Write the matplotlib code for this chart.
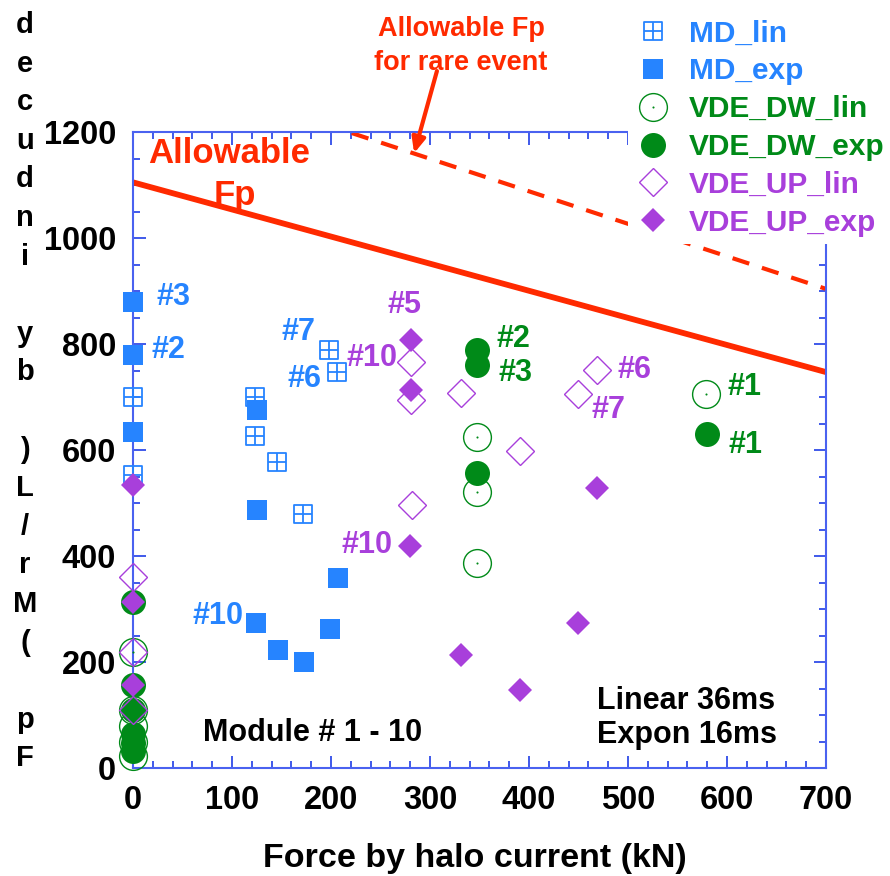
import matplotlib
matplotlib.use("Agg")
import matplotlib.pyplot as plt
from matplotlib.path import Path
from matplotlib.ticker import MultipleLocator

plt.rcParams['font.family'] = ['Liberation Sans', 'DejaVu Sans']
plt.rcParams['font.weight'] = 'bold'

# ---- data ----
md_lin_x = [0, 0, 123, 123, 145, 172, 198, 206]
md_lin_y = [700, 553, 700, 626, 577, 479, 789, 747]
md_exp_x = [0, 0, 0, 125, 125, 124, 146, 173, 199, 207]
md_exp_y = [880, 780, 634, 675, 487, 274, 223, 200, 262, 359]
dw_lin_x = [0, 0, 0, 0, 0, 347, 347, 347, 579]
dw_lin_y = [219, 110, 80, 50, 22, 625, 521, 387, 705]
dw_exp_x = [0, 0, 0, 0, 0, 0, 347, 347, 347, 580]
dw_exp_y = [313, 157, 110, 65, 48, 32, 789, 760, 556, 630]
up_lin_x = [0, 0, 0, 281, 281, 331, 391, 282, 469, 449]
up_lin_y = [360, 219, 109, 766, 694, 707, 598, 496, 751, 706]
up_exp_x = [0, 0, 0, 281, 281, 280, 331, 391, 449, 469]
up_exp_y = [534, 313, 157, 808, 713, 419, 213, 147, 274, 528]

allow_x = [0, 700]
allow_y = [1105, 747]
rare_x = [221, 700]
rare_y = [1198, 904]

# point labels: (text, x, y, series)
point_labels = [
    ("#3", 24, 889, "md"), ("#2", 19, 789, "md"), ("#7", 150, 823, "md"),
    ("#6", 156, 734, "md"), ("#10", 60, 287, "md"),
    ("#10", 216, 774, "up"), ("#5", 257, 873, "up"), ("#10", 211, 421, "up"),
    ("#6", 489, 751, "up"), ("#7", 463, 675, "up"),
    ("#2", 367, 809, "dw"), ("#3", 369, 745, "dw"),
    ("#1", 600, 719, "dw"), ("#1", 602, 609, "dw"),
]

xticks = [0, 100, 200, 300, 400, 500, 600, 700]
yticks = [0, 200, 400, 600, 800, 1000, 1200]
xlabel = "Force by halo current (kN)"
ylabel = "Fp (Mr/L) by induced"
legend_labels = ["MD_lin", "MD_exp", "VDE_DW_lin", "VDE_DW_exp", "VDE_UP_lin", "VDE_UP_exp"]

BLUE = '#2684ff'
GREEN = '#008a18'
PURPLE = '#a83fdb'
RED = '#ff2a00'
SPINE = '#4a62f0'
TICK = '#1f3de6'
colors = {"md": BLUE, "dw": GREEN, "up": PURPLE}

W, H = 890, 876
fig = plt.figure(figsize=(W / 100, H / 100), dpi=100)
ax = fig.add_axes([133 / W, 1 - 768 / H, 693 / W, 636 / H])

# grid-square marker
grid_sq = Path(
    [(-1, -1), (1, -1), (1, 1), (-1, 1), (-1, -1),
     (0, -1), (0, 1), (-1, 0), (1, 0)],
    [Path.MOVETO, Path.LINETO, Path.LINETO, Path.LINETO, Path.CLOSEPOLY,
     Path.MOVETO, Path.LINETO, Path.MOVETO, Path.LINETO])

# lines
ax.plot(allow_x, allow_y, color=RED, lw=4.2, solid_capstyle='butt', zorder=2, clip_on=False)
ax.plot(rare_x, rare_y, color=RED, lw=3.0, dashes=(4.2, 3.2), zorder=2, clip_on=False)

h1, = ax.plot(md_lin_x, md_lin_y, ls='none', marker=grid_sq, ms=13, mfc='none',
              mec=BLUE, mew=1.3, clip_on=False, zorder=3)
h2, = ax.plot(md_exp_x, md_exp_y, ls='none', marker='s', ms=14.4, mfc=BLUE,
              mec=BLUE, mew=0, clip_on=False, zorder=3)
h3a, = ax.plot(dw_lin_x, dw_lin_y, ls='none', marker='o', ms=20, mfc='none',
               mec=GREEN, mew=1.0, clip_on=False, zorder=3)
h3b, = ax.plot(dw_lin_x, dw_lin_y, ls='none', marker='o', ms=1.5, mfc=GREEN,
               mec=GREEN, mew=0, clip_on=False, zorder=3)
h4, = ax.plot(dw_exp_x, dw_exp_y, ls='none', marker='o', ms=18, mfc=GREEN,
              mec=GREEN, mew=0, clip_on=False, zorder=3)
h5, = ax.plot(up_lin_x, up_lin_y, ls='none', marker='D', ms=14.2, mfc='none',
              mec=PURPLE, mew=1.0, clip_on=False, zorder=3)
h6, = ax.plot(up_exp_x, up_exp_y, ls='none', marker='D', ms=12.2, mfc=PURPLE,
              mec=PURPLE, mew=0, clip_on=False, zorder=3)

for txt, x, y, s in point_labels:
    ax.text(x, y, txt, color=colors[s], fontsize=22, fontweight='bold',
            ha='left', va='center', zorder=4)

ax.text(15, 1160, "Allowable", color=RED, fontsize=25, fontweight='bold',
        ha='left', va='center')
ax.text(81, 1081, "Fp", color=RED, fontsize=25, fontweight='bold',
        ha='left', va='center')

ax.text(181, 66, "Module # 1 - 10", color='black', fontsize=22, fontweight='bold',
        ha='center', va='center')
ax.text(469, 94, "Linear 36ms\nExpon 16ms", color='black', fontsize=22,
        fontweight='bold', ha='left', va='center', linespacing=1.15)

# arrow + rare-event text
ax.annotate('', xy=(284, 1160), xytext=(307, 1315),
            arrowprops=dict(arrowstyle='-|>,head_length=0.9,head_width=0.4',
                            color=RED, lw=3, shrinkA=0, shrinkB=0),
            annotation_clip=False)
fig.text(461 / W, 1 - 46 / H, "Allowable Fp\nfor rare event", color=RED,
         fontsize=19.5, fontweight='bold', ha='center', va='center', linespacing=1.38)

# axes styling
ax.set_xlim(0, 700)
ax.set_ylim(0, 1200)
ax.set_xticks(xticks)
ax.set_yticks(yticks)
ax.xaxis.set_minor_locator(MultipleLocator(20))
ax.yaxis.set_minor_locator(MultipleLocator(50))
ax.tick_params(which='both', direction='in', top=True, right=True, colors=TICK,
               labelcolor='black', width=1.2)
ax.tick_params(which='major', length=9, labelsize=23.5, pad=12)
ax.tick_params(which='minor', length=5)
for lab in ax.get_xticklabels() + ax.get_yticklabels():
    lab.set_fontweight('bold')
for sp in ax.spines.values():
    sp.set_color(SPINE)
    sp.set_linewidth(1.5)

fig.text(475 / W, 1 - 858 / H, xlabel, fontsize=24.5, fontweight='bold',
         ha='center', va='center')

# stacked reversed y label
chars = list(ylabel[::-1])
for i, ch in enumerate(chars):
    fig.text(25 / W, 1 - (25 + i * 38.6) / H, ch, fontsize=21, fontweight='bold',
             ha='center', va='center')

# legend
leg = fig.legend([h1, h2, (h3a, h3b), h4, h5, h6], legend_labels,
                 loc='upper left', bbox_to_anchor=(628 / W, 1 - 12 / H),
                 frameon=True, facecolor='white', edgecolor='none', framealpha=1,
                 fontsize=21.5, handlelength=1.2, handletextpad=0.6,
                 labelspacing=0.33, borderpad=0.25, borderaxespad=0)
for t, c in zip(leg.get_texts(), [BLUE, BLUE, GREEN, GREEN, PURPLE, PURPLE]):
    t.set_color(c)
    t.set_fontweight('bold')
leg.set_zorder(5)

fig.savefig("out.png", dpi=100)
